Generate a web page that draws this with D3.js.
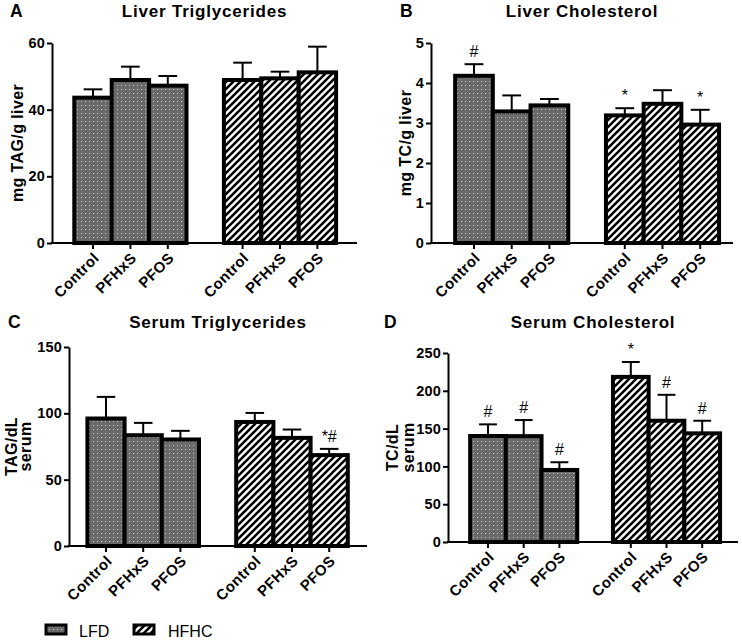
<!DOCTYPE html>
<html><head><meta charset="utf-8">
<script src="https://cdn.jsdelivr.net/npm/d3@7"></script>
<style>
html,body{margin:0;padding:0;background:#fff;}
svg{display:block;font-family:"Liberation Sans",Arial,sans-serif;}
</style></head>
<body>
<svg id="chart" width="742" height="641"></svg>
<script>
// ---------- data ----------
const groups = ["LFD", "HFHC"];
const treatments = ["Control", "PFHxS", "PFOS"];

const liverTAG     = [43.6, 48.9, 47.2, 48.9, 49.4, 51.2];
const liverTAGErr  = [2.5, 4.0, 2.9, 5.2, 2.0, 7.7];
const liverTAGMark = ["", "", "", "", "", ""];

const liverTC      = [4.18, 3.29, 3.44, 3.19, 3.48, 2.96];
const liverTCErr   = [0.29, 0.40, 0.16, 0.18, 0.34, 0.37];
const liverTCMark  = ["#", "", "", "*", "", "*"];

const serumTAG     = [96.1, 83.5, 80.3, 93.5, 81.5, 68.5];
const serumTAGErr  = [16.3, 9.3, 6.5, 6.8, 6.3, 4.7];
const serumTAGMark = ["", "", "", "", "", "*#"];

const serumTC      = [140.2, 140.0, 95.3, 218.4, 160.4, 143.7];
const serumTCErr   = [15.4, 21.3, 10.2, 19.7, 34.3, 16.7];
const serumTCMark  = ["#", "#", "#", "*", "#", "#"];

const ticksA = [0, 20, 40, 60];
const ticksB = [0, 1, 2, 3, 4, 5];
const ticksC = [0, 50, 100, 150];
const ticksD = [0, 50, 100, 150, 200, 250];

// ---------- layout ----------
const svg = d3.select("#chart");
const defs = svg.append("defs");

const dots = defs.append("pattern").attr("id", "dots")
  .attr("patternUnits", "userSpaceOnUse").attr("width", 4).attr("height", 4);
dots.append("rect").attr("width", 4).attr("height", 4).attr("fill", "#6a6a6a");
dots.append("rect").attr("x", 1).attr("y", 1).attr("width", 1).attr("height", 1).attr("fill", "#c8c8c8");

const hatch = defs.append("pattern").attr("id", "hatch")
  .attr("patternUnits", "userSpaceOnUse").attr("width", 7).attr("height", 7);
hatch.append("rect").attr("width", 7).attr("height", 7).attr("fill", "#fff");
hatch.append("path").attr("d", "M-1,1 L1,-1 M0,7 L7,0 M6,8 L8,6")
  .attr("stroke", "#000").attr("stroke-width", 2.6);

const slots = ["LFD|Control", "LFD|PFHxS", "LFD|PFOS", "gap",
               "HFHC|Control", "HFHC|PFHxS", "HFHC|PFOS"];
const barKeys = [];
groups.forEach(g => treatments.forEach(t => barKeys.push({ g, t, key: g + "|" + t })));

const FONT = "Liberation Sans, Arial, sans-serif";

const panels = [
  { letter: "A", title: "Liver Triglycerides", label: ["mg TAG/g liver"], vals: liverTAG, errs: liverTAGErr, marks: liverTAGMark,
    ticks: ticksA, max: 60, left: 52, right: 357, top: 43, bottom: 243, c0: 93, step: 37.4,
    letterX: 10, titleY: 17, labelBase: [23] },
  { letter: "B", title: "Liver Cholesterol", label: ["mg TC/g liver"], vals: liverTC, errs: liverTCErr, marks: liverTCMark,
    ticks: ticksB, max: 5, left: 431, right: 733, top: 43, bottom: 243, c0: 474, step: 37.7,
    letterX: 400, titleY: 17, labelBase: [411] },
  { letter: "C", title: "Serum Triglycerides", label: ["TAG/dL", "serum"], vals: serumTAG, errs: serumTAGErr, marks: serumTAGMark,
    ticks: ticksC, max: 150, left: 69, right: 367, top: 347, bottom: 546, c0: 106, step: 37.2,
    letterX: 8, titleY: 328, labelBase: [17, 31] },
  { letter: "D", title: "Serum Cholesterol", label: ["TC/dL", "serum"], vals: serumTC, errs: serumTCErr, marks: serumTCMark,
    ticks: ticksD, max: 250, left: 448, right: 738, top: 353, bottom: 542, c0: 488, step: 35.7,
    letterX: 384, titleY: 328, labelBase: [398, 414] }
];

panels.forEach(p => {
  const g = svg.append("g");
  const x = d3.scaleBand().domain(slots)
    .range([p.c0 - p.step / 2, p.c0 + p.step * 6.5]).padding(0);
  const y = d3.scaleLinear().domain([0, p.max]).range([p.bottom, p.top]);

  // letter + title
  g.append("text").attr("x", p.letterX).attr("y", p.titleY)
    .attr("font-size", 17.5).attr("font-weight", "bold").text(p.letter);
  g.append("text").attr("x", (p.left + p.right) / 2).attr("y", p.titleY)
    .attr("text-anchor", "middle").attr("font-size", 17).attr("font-weight", "bold")
    .attr("letter-spacing", 0.8).text(p.title);

  // y label (one text per line, rotated)
  const cy = (p.top + p.bottom) / 2;
  p.label.forEach((t, k) => {
    g.append("text").attr("transform", `translate(${p.labelBase[k]},${cy}) rotate(-90)`)
      .attr("text-anchor", "middle").attr("font-size", 16).attr("font-weight", "bold")
      .attr("letter-spacing", 0.4).text(t);
  });

  // error bars
  const eb = g.append("g");
  barKeys.forEach((b, i) => {
    const cx = x(b.key) + x.bandwidth() / 2;
    const hw = x.bandwidth() * 0.25;
    eb.append("line").attr("x1", cx).attr("x2", cx)
      .attr("y1", y(p.vals[i])).attr("y2", y(p.vals[i] + p.errs[i]))
      .attr("stroke", "#000").attr("stroke-width", 2);
    eb.append("line").attr("x1", cx - hw).attr("x2", cx + hw)
      .attr("y1", y(p.vals[i] + p.errs[i])).attr("y2", y(p.vals[i] + p.errs[i]))
      .attr("stroke", "#000").attr("stroke-width", 2);
    if (p.marks[i]) {
      eb.append("text").attr("x", cx).attr("y", y(p.vals[i] + p.errs[i]) - 7)
        .attr("text-anchor", "middle").attr("font-size", 16).text(p.marks[i]);
    }
  });

  // bars
  g.append("g").selectAll("rect").data(barKeys).join("rect")
    .attr("x", d => x(d.key)).attr("width", x.bandwidth())
    .attr("y", (d, i) => y(p.vals[i]))
    .attr("height", (d, i) => y(0) - y(p.vals[i]))
    .attr("fill", d => d.g === "LFD" ? "url(#dots)" : "url(#hatch)")
    .attr("stroke", "#000").attr("stroke-width", 4);

  // y axis
  const ya = g.append("g").attr("transform", `translate(${p.left},0)`)
    .call(d3.axisLeft(y).tickValues(p.ticks).tickFormat(d3.format("~g"))
      .tickSize(5).tickSizeOuter(0).tickPadding(2));
  ya.select(".domain").attr("stroke-width", 2);
  ya.selectAll(".tick line").attr("stroke-width", 2);
  ya.selectAll(".tick text").attr("font-size", 14.5).attr("font-weight", "bold")
    .attr("font-family", FONT).attr("fill", "#000").attr("letter-spacing", 0.2);

  // x axis
  g.append("line").attr("x1", p.left - 1).attr("x2", p.right)
    .attr("y1", p.bottom).attr("y2", p.bottom).attr("stroke", "#000").attr("stroke-width", 2);
  const xa = g.append("g").attr("transform", `translate(0,${p.bottom})`)
    .call(d3.axisBottom(x).tickValues(barKeys.map(d => d.key)).tickSize(6).tickSizeOuter(0)
      .tickFormat(k => k.split("|")[1]));
  xa.select(".domain").remove();
  xa.selectAll(".tick line").attr("stroke-width", 2);
  xa.selectAll(".tick text")
    .attr("font-size", 15).attr("font-weight", "bold").attr("fill", "#000")
    .attr("font-family", FONT)
    .attr("letter-spacing", 0.4)
    .attr("text-anchor", "end")
    .attr("dy", null).attr("y", null)
    .attr("transform", "translate(7,16) rotate(-45)");
});

// legend
const legend = svg.append("g");
const legendItems = [{ name: "LFD", fill: "url(#dots)", x: 46, tx: 79 },
                     { name: "HFHC", fill: "url(#hatch)", x: 134, tx: 168 }];
legendItems.forEach(it => {
  legend.append("rect").attr("x", it.x).attr("y", 625).attr("width", 20).attr("height", 9)
    .attr("fill", it.fill).attr("stroke", "#000").attr("stroke-width", 3);
  legend.append("text").attr("x", it.tx).attr("y", 637).attr("font-size", 16).text(it.name);
});
</script>
</body></html>
